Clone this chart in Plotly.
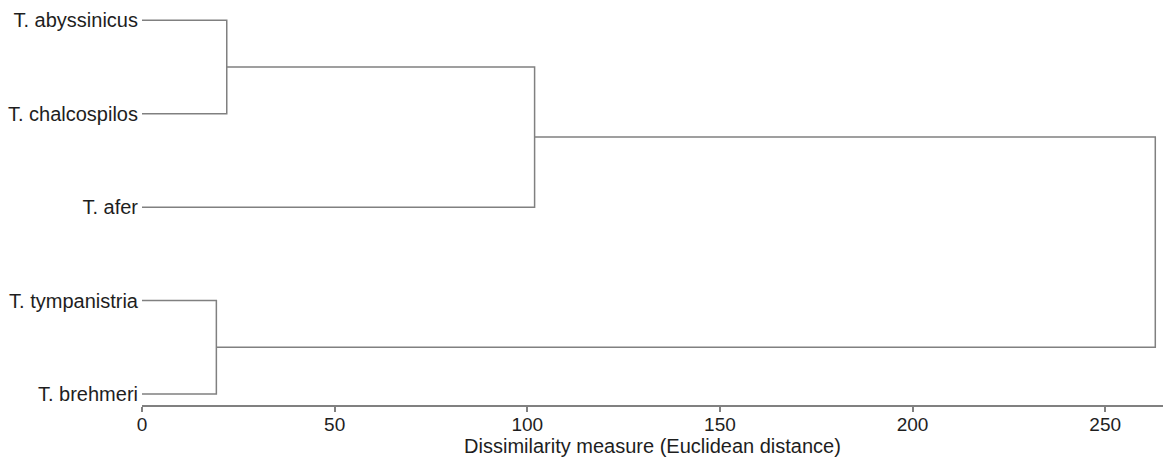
import plotly.graph_objects as go

# Leaves, top to bottom
leaves = ["T. abyssinicus", "T. chalcospilos", "T. afer", "T. tympanistria", "T. brehmeri"]

# Linkage: merge pairs (node ids; leaves are 0..4, merges numbered from 5) and heights
merge_left = [0, 3, 5, 7]
merge_right = [1, 4, 2, 6]
merge_height = [22.0, 19.3, 101.9, 263.0]

x_ticks = [0, 50, 100, 150, 200, 250]

LINE = "#808080"
TEXT = "#1e1e1e"
FONT = "Liberation Sans, Arial, Helvetica, sans-serif"

# node positions
node_y = {i: float(i) for i in range(len(leaves))}
node_h = {i: 0.0 for i in range(len(leaves))}

xs, ys = [], []
for k, (a, b, h) in enumerate(zip(merge_left, merge_right, merge_height)):
    nid = len(leaves) + k
    xs += [node_h[a], h, h, node_h[b], None]
    ys += [node_y[a], node_y[a], node_y[b], node_y[b], None]
    node_y[nid] = (node_y[a] + node_y[b]) / 2
    node_h[nid] = h

fig = go.Figure()
fig.add_trace(go.Scatter(x=xs, y=ys, mode="lines",
                         line=dict(color=LINE, width=1.5),
                         hoverinfo="skip", showlegend=False))

fig.update_layout(
    width=1163, height=459,
    margin=dict(l=142, r=0, t=11, b=54, autoexpand=False),
    paper_bgcolor="white", plot_bgcolor="white",
    font=dict(family=FONT, size=19, color=TEXT),
    showlegend=False,
)
fig.update_xaxes(
    range=[0, 265], tickvals=x_ticks, ticktext=[str(v) for v in x_ticks],
    showline=True, linecolor=LINE, linewidth=1.5,
    ticks="outside", ticklen=5, tickcolor=LINE, tickwidth=1.5,
    showgrid=False, zeroline=False,
    title=dict(text="Dissimilarity measure (Euclidean distance)", standoff=2,
               font=dict(size=20, color=TEXT)),
    tickfont=dict(size=19, color=TEXT), ticklabelstandoff=-4,
    automargin=False,
)
fig.update_yaxes(
    range=[4.118, -0.1], tickvals=list(range(len(leaves))), ticktext=leaves,
    showline=False, showgrid=False, zeroline=False, ticks="",
    tickfont=dict(size=20, color=TEXT), ticklabelstandoff=3,
    automargin=False,
)

fig.write_html("out.html", config={"displayModeBar": False},
               post_script="document.body.style.margin='0';")
